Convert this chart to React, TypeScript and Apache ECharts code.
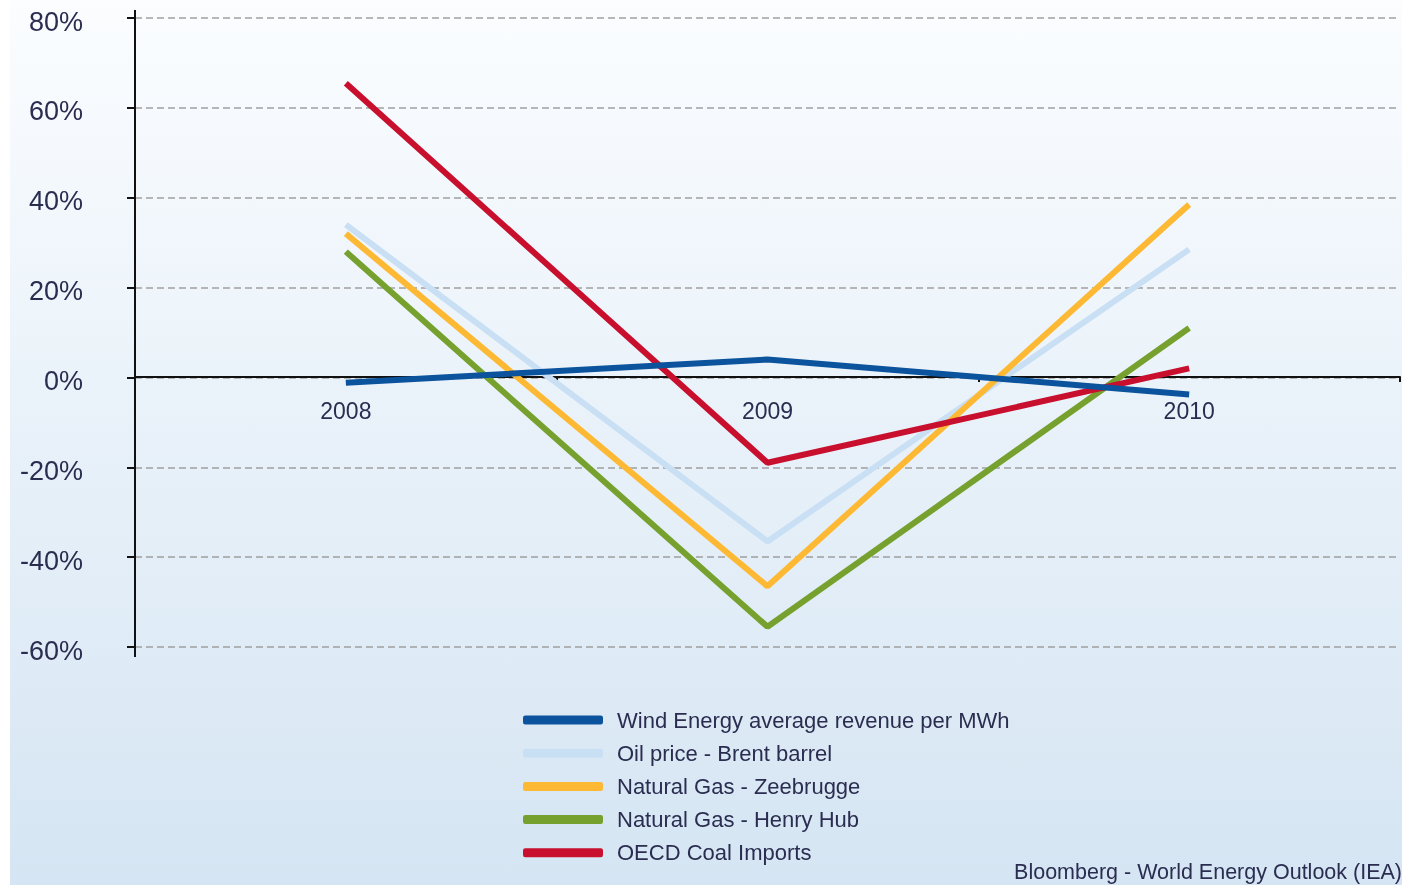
import React, { useEffect, useRef } from "react";
import * as echarts from "echarts";

const years = ["2008", "2009", "2010"];
const windRevenue = [-1.2, 4, -3.8];
const oilBrent = [34, -36.5, 28.5];
const gasZeebrugge = [32, -46.5, 38.5];
const gasHenryHub = [28, -55.5, 11];
const coalOECD = [65.5, -19, 2];
const yTicks = [-60, -40, -20, 0, 20, 40, 60, 80];

const FONT = "Liberation Sans";
const TEXT = "#2a2d50";

export default function App() {
  const ref = useRef<HTMLDivElement>(null);
  useEffect(() => {
    if (!ref.current) return;
    const chart = echarts.init(ref.current, null, { renderer: "svg" });
    const mk = (name: string, data: number[], color: string, z: number) => ({
      name,
      type: "line",
      data,
      symbol: "none",
      z,
      lineStyle: { color, width: 6 },
      itemStyle: { color },
    });
    chart.setOption({
      animation: false,
      textStyle: { fontFamily: FONT },
      graphic: [
        {
          type: "rect",
          z: -10,
          silent: true,
          shape: { x: 10, y: 0, width: 1392, height: 885 },
          style: {
            fill: new echarts.graphic.LinearGradient(0, 0, 0, 1, [
              { offset: 0, color: "#fbfdff" },
              { offset: 1, color: "#d5e5f3" },
            ]),
          },
        },
        {
          type: "line",
          silent: true,
          z: 10,
          shape: { x1: 135, y1: 10, x2: 135, y2: 657 },
          style: { stroke: "#111", lineWidth: 2 },
        },
        {
          type: "text",
          right: 0,
          top: 861,
          style: {
            text: "Bloomberg - World Energy Outlook (IEA)",
            font: `21.5px "${FONT}"`,
            fill: TEXT,
          },
        },
      ],
      grid: { left: 135, right: 2, top: 18, bottom: 238, containLabel: false },
      legend: {
        orient: "vertical",
        left: 523,
        top: 709,
        padding: 0,
        itemWidth: 80,
        itemHeight: 9,
        itemGap: 11.2,
        icon: "roundRect",
        textStyle: { fontFamily: FONT, fontSize: 22, color: TEXT, padding: [0, 0, 0, 9] },
        data: [
          "Wind Energy average revenue per MWh",
          "Oil price - Brent barrel",
          "Natural Gas - Zeebrugge",
          "Natural Gas - Henry Hub",
          "OECD Coal Imports",
        ],
      },
      xAxis: {
        type: "category",
        data: years,
        boundaryGap: true,
        offset: -270,
        axisLine: { onZero: false, lineStyle: { color: "#111", width: 2 } },
        axisTick: { show: true, length: 5, lineStyle: { color: "#111", width: 2 } },
        axisLabel: { fontFamily: FONT, fontSize: 23, color: TEXT, margin: 22 },
        splitLine: { show: false },
      },
      yAxis: {
        type: "value",
        min: yTicks[0],
        max: yTicks[yTicks.length - 1],
        interval: 20,
        axisLine: { show: true, lineStyle: { color: "#111", width: 2 } },
        axisTick: { show: true, length: 8, lineStyle: { color: "#111", width: 2 } },
        axisLabel: {
          fontFamily: FONT,
          fontSize: 27,
          color: TEXT,
          margin: 52,
          verticalAlign: "top",
          lineHeight: 27,
          padding: [-10, 0, 0, 0],
          formatter: (v: number) => `${v}%`,
        },
        splitLine: { show: true, lineStyle: { color: "#a0a0a0", type: [7, 4], width: 1.5 } },
      },
      series: [
        mk("Oil price - Brent barrel", oilBrent, "#c9dff4", 2),
        mk("Natural Gas - Zeebrugge", gasZeebrugge, "#fdb933", 3),
        mk("Natural Gas - Henry Hub", gasHenryHub, "#76a12e", 4),
        mk("OECD Coal Imports", coalOECD, "#c8102e", 5),
        mk("Wind Energy average revenue per MWh", windRevenue, "#0b539c", 6),
      ],
    });
    return () => chart.dispose();
  }, []);
  return (
    <div
      ref={ref}
      style={{ position: "fixed", left: 0, top: 0, width: 1402, height: 885 }}
    />
  );
}
